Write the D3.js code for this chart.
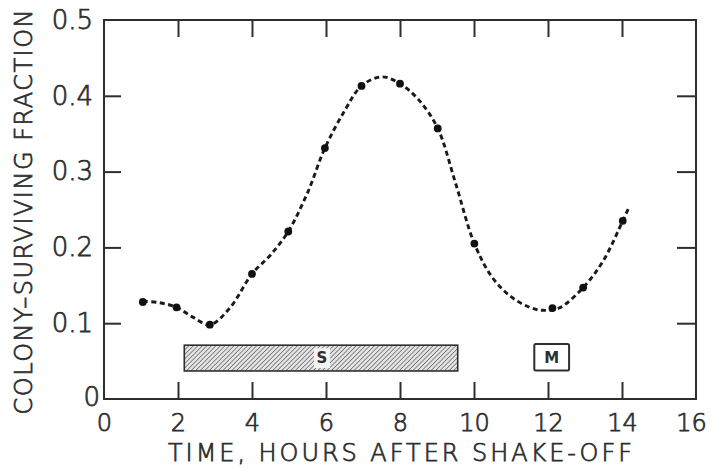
<!DOCTYPE html>
<html><head><meta charset="utf-8">
<script src="https://cdn.jsdelivr.net/npm/d3@7"></script>
<style>
body{margin:0;background:#fff;}
text{font-family:"DejaVu Sans",sans-serif;fill:#2e2e2e;}
text.thin{font-weight:200;stroke:#2e2e2e;stroke-width:0.75px;}
</style></head>
<body><svg id="c" width="711" height="469"></svg>
<script>
// measured points
const hours = [1.05, 1.96, 2.86, 4.0, 4.98, 5.97, 6.96, 8.0, 9.02, 10.01, 12.12, 12.95, 14.02];
const surviving = [0.128, 0.121, 0.098, 0.165, 0.221, 0.331, 0.413, 0.416, 0.357, 0.205, 0.120, 0.147, 0.235];
// hand-drawn smooth curve
const curveHours = [1.05, 1.5, 1.96, 2.4, 2.86, 3.4, 4.0, 4.5, 4.98, 5.5, 5.97, 6.5, 6.96, 7.5, 8.0, 8.5, 9.02, 9.5, 10.01, 10.5, 11.0, 11.5, 11.85, 12.3, 12.95, 13.5, 14.02, 14.18];
const curveValues = [0.129, 0.127, 0.121, 0.108, 0.098, 0.12, 0.165, 0.19, 0.221, 0.272, 0.331, 0.38, 0.413, 0.425, 0.416, 0.395, 0.357, 0.285, 0.205, 0.16, 0.135, 0.121, 0.117, 0.12, 0.147, 0.183, 0.235, 0.252];
// phase bars
const phaseLabels = ["S", "M"];
const phaseStart = [2.17, 11.63];
const phaseEnd = [9.56, 12.57];
const phaseTop = [0.071, 0.0725];
const phaseBottom = [0.037, 0.0375];
const xTicks = [0, 2, 4, 6, 8, 10, 12, 14, 16];
const yTicks = [0, 0.1, 0.2, 0.3, 0.4, 0.5];
const xTitle = "TIME, HOURS AFTER SHAKE-OFF";
const yTitle = "COLONY–SURVIVING FRACTION";

const svg = d3.select("#c");
const x = d3.scaleLinear().domain([0, 16]).range([104, 696]);
const y = d3.scaleLinear().domain([0, 0.5]).range([399, 20]);
const ink = "#2e2e2e";

const defs = svg.append("defs");
const pat = defs.append("pattern").attr("id", "hatch").attr("patternUnits", "userSpaceOnUse")
  .attr("width", 3.2).attr("height", 3.2).attr("patternTransform", "rotate(45)");
pat.append("rect").attr("width", 3.2).attr("height", 3.2).attr("fill", "#e4e4e4");
pat.append("line").attr("x1", 0).attr("y1", 0).attr("x2", 0).attr("y2", 3.2)
  .attr("stroke", "#555").attr("stroke-width", 1.3);

// frame
svg.append("rect").attr("x", x(0)).attr("y", y(0.5)).attr("width", x(16) - x(0)).attr("height", y(0) - y(0.5))
  .attr("fill", "none").attr("stroke", ink).attr("stroke-width", 2);

function styleAxis(g, size) {
  g.select(".domain").remove();
  g.selectAll(".tick line").attr("stroke", ink).attr("stroke-width", 2);
  g.selectAll(".tick text").attr("class", "thin").attr("fill", ink).style("font-size", (size || 26) + "px");
}
const inner = v => v > 0 && v < 16;
// bottom axis
svg.append("g").attr("transform", `translate(0,${y(0)})`)
  .call(d3.axisBottom(x).tickValues(xTicks).tickSize(-17).tickPadding(15).tickFormat(d3.format("d")))
  .call(g => styleAxis(g, 24))
  .call(g => g.selectAll(".tick line").filter(d => !inner(d)).remove())
  .call(g => g.selectAll(".tick text").filter(d => d === 16).attr("x", -5));
// top axis ticks
svg.append("g").attr("transform", `translate(0,${y(0.5)})`)
  .call(d3.axisTop(x).tickValues(xTicks.filter(inner)).tickSize(-17).tickFormat(""))
  .call(styleAxis);
// left axis
svg.append("g").attr("transform", `translate(${x(0)},0)`)
  .call(d3.axisLeft(y).tickValues(yTicks).tickSize(-17).tickPadding(11).tickFormat(d => d === 0 ? "0" : d.toFixed(1)))
  .call(g => styleAxis(g, 26))
  .call(g => g.selectAll(".tick line").filter(d => d === 0 || d === 0.5).remove())
  .call(g => g.selectAll(".tick text").filter(d => d === 0).attr("x", -4).attr("dy", "0.25em"));
// right axis ticks
svg.append("g").attr("transform", `translate(${x(16)},0)`)
  .call(d3.axisRight(y).tickValues(yTicks.filter(d => d > 0 && d < 0.5)).tickSize(-19).tickFormat(""))
  .call(styleAxis);

// phase bars
phaseLabels.forEach((lab, i) => {
  const g = svg.append("g");
  const x0 = x(phaseStart[i]), x1 = x(phaseEnd[i]), y0 = y(phaseTop[i]), y1 = y(phaseBottom[i]);
  g.append("rect").attr("x", x0).attr("y", y0).attr("width", x1 - x0).attr("height", y1 - y0)
    .attr("fill", lab === "S" ? "url(#hatch)" : "#fff").attr("stroke", ink).attr("stroke-width", lab === "S" ? 1.6 : 2)
    .attr("rx", lab === "M" ? 1.5 : 0);
  const cx = lab === "S" ? x(6) - 4 : (x0 + x1) / 2;
  if (lab === "S") g.append("rect").attr("x", cx - 8).attr("y", y0 + 3).attr("width", 16).attr("height", y1 - y0 - 6).attr("fill", "#f4f4f4");
  g.append("text").attr("x", cx).attr("y", (y0 + y1) / 2).attr("dy", "0.36em").attr("text-anchor", "middle")
    .style("font-size", "15px").style("font-weight", "bold").text(lab);
});

// curve
const line = d3.line().x(d => x(d[0])).y(d => y(d[1])).curve(d3.curveCatmullRom.alpha(0.5));
svg.append("path").datum(curveHours.map((h, i) => [h, curveValues[i]]))
  .attr("d", line).attr("fill", "none").attr("stroke", "#1a1a1a").attr("stroke-width", 2.9)
  .attr("stroke-dasharray", "5,3.5");
// points
svg.append("g").selectAll("circle").data(hours.map((h, i) => [h, surviving[i]])).join("circle")
  .attr("cx", d => x(d[0])).attr("cy", d => y(d[1])).attr("r", 3.9).attr("fill", "#111");

// titles
svg.append("text").attr("class", "thin").attr("x", 400).attr("y", 461).attr("text-anchor", "middle")
  .attr("textLength", 464).attr("lengthAdjust", "spacing")
  .style("font-size", "24px").text(xTitle);
svg.append("text").attr("class", "thin").attr("transform", "translate(32,212) rotate(-90)").attr("text-anchor", "middle")
  .attr("textLength", 405).attr("lengthAdjust", "spacing")
  .style("font-size", "24px").text(yTitle);
</script></body></html>
